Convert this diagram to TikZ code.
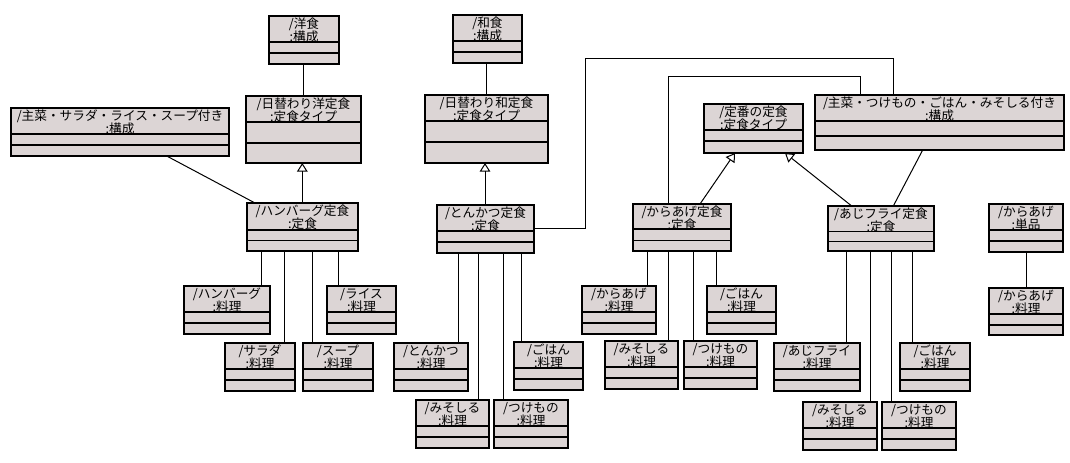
\documentclass[tikz,border=0pt]{standalone}
\usepackage{fontspec}
\setmainfont{Noto Sans CJK JP}
\usetikzlibrary{arrows.meta,calc}
\definecolor{boxfill}{RGB}{220,213,213}
\tikzset{
 cls/.style={draw=black, fill=boxfill, line width=0.9pt, rectangle, inner sep=0pt, outer sep=0pt},
 sepline/.style={draw=black, line width=0.9pt},
 lbl/.style={align=center, inner sep=0pt, font=\fontsize{9.5}{9.75}\selectfont},
 conn/.style={draw=black, line width=0.75pt},
 gen/.style={conn, -{Triangle[open, width=8pt, length=6.5pt]}},
}
\newcommand\clsbox[9]{%
 \node[cls, minimum width={(#4-#2)*0.75pt}, minimum height={(#5-#3)*0.75pt}] (#1) at ({(#2+#4)/2},{(#3+#5)/2}) {};
 \draw[sepline] ($(#1.north west)+(0,#6)$) -- ($(#1.north east)+(0,#6)$);
 \draw[sepline] ($(#1.north west)+(0,#7)$) -- ($(#1.north east)+(0,#7)$);
 \node[lbl] (#1-t) at ($(#1.north)+(0,14.5)$) {#8\\#9};
}
\begin{document}
\begin{tikzpicture}[x=0.75pt,y=-0.75pt]
\fill[white] (0,0) rectangle (1070,463);
\useasboundingbox (0,0) rectangle (1070,463);
% western
\clsbox{yoshoku}{269}{16}{339}{64}{26}{37}{/洋食}{:構成}
\clsbox{hiyo}{246}{96}{361}{163}{26}{47}{/日替わり洋定食}{:定食タイプ}
\clsbox{shusara}{11}{108}{229}{156}{26}{37}{/主菜・サラダ・ライス・スープ付き}{:構成}
\clsbox{hamb}{247}{203}{358}{251}{27}{37.5}{/ハンバーグ定食}{:定食}
\clsbox{hambi}{184}{286}{270}{334}{26}{37}{/ハンバーグ}{:料理}
\clsbox{rice}{327}{286}{396}{334}{26}{37}{/ライス}{:料理}
\clsbox{salad}{225}{343}{295}{391}{26}{37}{/サラダ}{:料理}
\clsbox{soup}{303}{343}{373}{391}{26}{37}{/スープ}{:料理}
% japanese
\clsbox{washoku}{453}{15}{522}{63}{26}{37}{/和食}{:構成}
\clsbox{hiwa}{425}{95}{548}{163}{26}{47}{/日替わり和定食}{:定食タイプ}
\clsbox{tonk}{437}{205}{534}{253}{26}{37}{/とんかつ定食}{:定食}
\clsbox{tonki}{394}{343}{468}{391}{26}{37}{/とんかつ}{:料理}
\clsbox{gohanA}{514}{342}{583}{390}{26}{37}{/ごはん}{:料理}
\clsbox{misoA}{416}{400}{489}{448}{26}{37}{/みそしる}{:料理}
\clsbox{tsukeA}{494}{400}{568}{448}{26}{37}{/つけもの}{:料理}
% standard
\clsbox{teiban}{704}{104}{803}{153}{26}{37}{/定番の定食}{:定食タイプ}
\clsbox{shutsuke}{815}{95}{1064}{150}{26}{41}{/主菜・つけもの・ごはん・みそしる付き}{:構成}
\clsbox{kara}{633}{204}{731}{251}{25}{36.5}{/からあげ定食}{:定食}
\clsbox{karai}{582}{286}{656}{334}{26}{37}{/からあげ}{:料理}
\clsbox{gohanB}{707}{286}{776}{334}{26}{37}{/ごはん}{:料理}
\clsbox{misoB}{605}{341}{678}{389}{26}{37}{/みそしる}{:料理}
\clsbox{tsukeB}{684}{341}{757}{389}{26}{37}{/つけもの}{:料理}
\clsbox{aji}{828}{206}{934}{251}{25.7}{35.7}{/あじフライ定食}{:定食}
\clsbox{ajii}{774}{343}{860}{391}{26}{37}{/あじフライ}{:料理}
\clsbox{gohanC}{900}{343}{970}{391}{26}{37}{/ごはん}{:料理}
\clsbox{misoC}{803}{402}{877}{450}{26}{37}{/みそしる}{:料理}
\clsbox{tsukeC}{882}{402}{956}{450}{26}{37}{/つけもの}{:料理}
\clsbox{karatan}{989}{204}{1063}{252}{26}{37}{/からあげ}{:単品}
\clsbox{karaiB}{989}{288}{1063}{335}{26}{37}{/からあげ}{:料理}
% connectors: western
\draw[conn] (303.3,0 |- yoshoku.south) -- (303.3,0 |- hiyo.north);
\draw[gen] (302.3,0 |- hamb.north) -- (302.3,0 |- hiyo.south);
\draw[conn] (166.7,0 |- shusara.south) -- (255,0 |- hamb.north);
\draw[conn] (261.3,0 |- hamb.south) -- (261.3,0 |- hambi.north);
\draw[conn] (284.3,0 |- hamb.south) -- (284.3,0 |- salad.north);
\draw[conn] (312.7,0 |- hamb.south) -- (312.7,0 |- soup.north);
\draw[conn] (338.3,0 |- hamb.south) -- (338.3,0 |- rice.north);
% japanese
\draw[conn] (486.3,0 |- washoku.south) -- (486.3,0 |- hiwa.north);
\draw[gen] (485,0 |- tonk.north) -- (485,0 |- hiwa.south);
\draw[conn] (tonk.east) -| (585.3,58.3) -| (893.3,0 |- shutsuke.north);
\draw[conn] (458.3,0 |- tonk.south) -- (458.3,0 |- tonki.north);
\draw[conn] (478.3,0 |- tonk.south) -- (478.3,0 |- misoA.north);
\draw[conn] (503.3,0 |- tonk.south) -- (503.3,0 |- tsukeA.north);
\draw[conn] (521.3,0 |- tonk.south) -- (521.3,0 |- gohanA.north);
% standard
\draw[conn] (668.3,0 |- kara.north) -- (668.3,76.3) -| (860.3,0 |- shutsuke.north);
\draw[gen] (700,0 |- kara.north) -- (735,0 |- teiban.south);
\draw[conn] (647.3,0 |- kara.south) -- (647.3,0 |- karai.north);
\draw[conn] (668.3,0 |- kara.south) -- (668.3,0 |- misoB.north);
\draw[conn] (693.3,0 |- kara.south) -- (693.3,0 |- tsukeB.north);
\draw[conn] (716.3,0 |- kara.south) -- (716.3,0 |- gohanB.north);
\draw[gen] (851.7,0 |- aji.north) -- (785,0 |- teiban.south);
\draw[conn] (893.3,0 |- aji.north) -- (922.7,0 |- shutsuke.south);
\draw[conn] (846.7,0 |- aji.south) -- (846.7,0 |- ajii.north);
\draw[conn] (870.3,0 |- aji.south) -- (870.3,0 |- misoC.north);
\draw[conn] (891.3,0 |- aji.south) -- (891.3,0 |- tsukeC.north);
\draw[conn] (912.7,0 |- aji.south) -- (912.7,0 |- gohanC.north);
\draw[conn] (1026.3,0 |- karatan.south) -- (1026.3,0 |- karaiB.north);
\end{tikzpicture}
\end{document}
